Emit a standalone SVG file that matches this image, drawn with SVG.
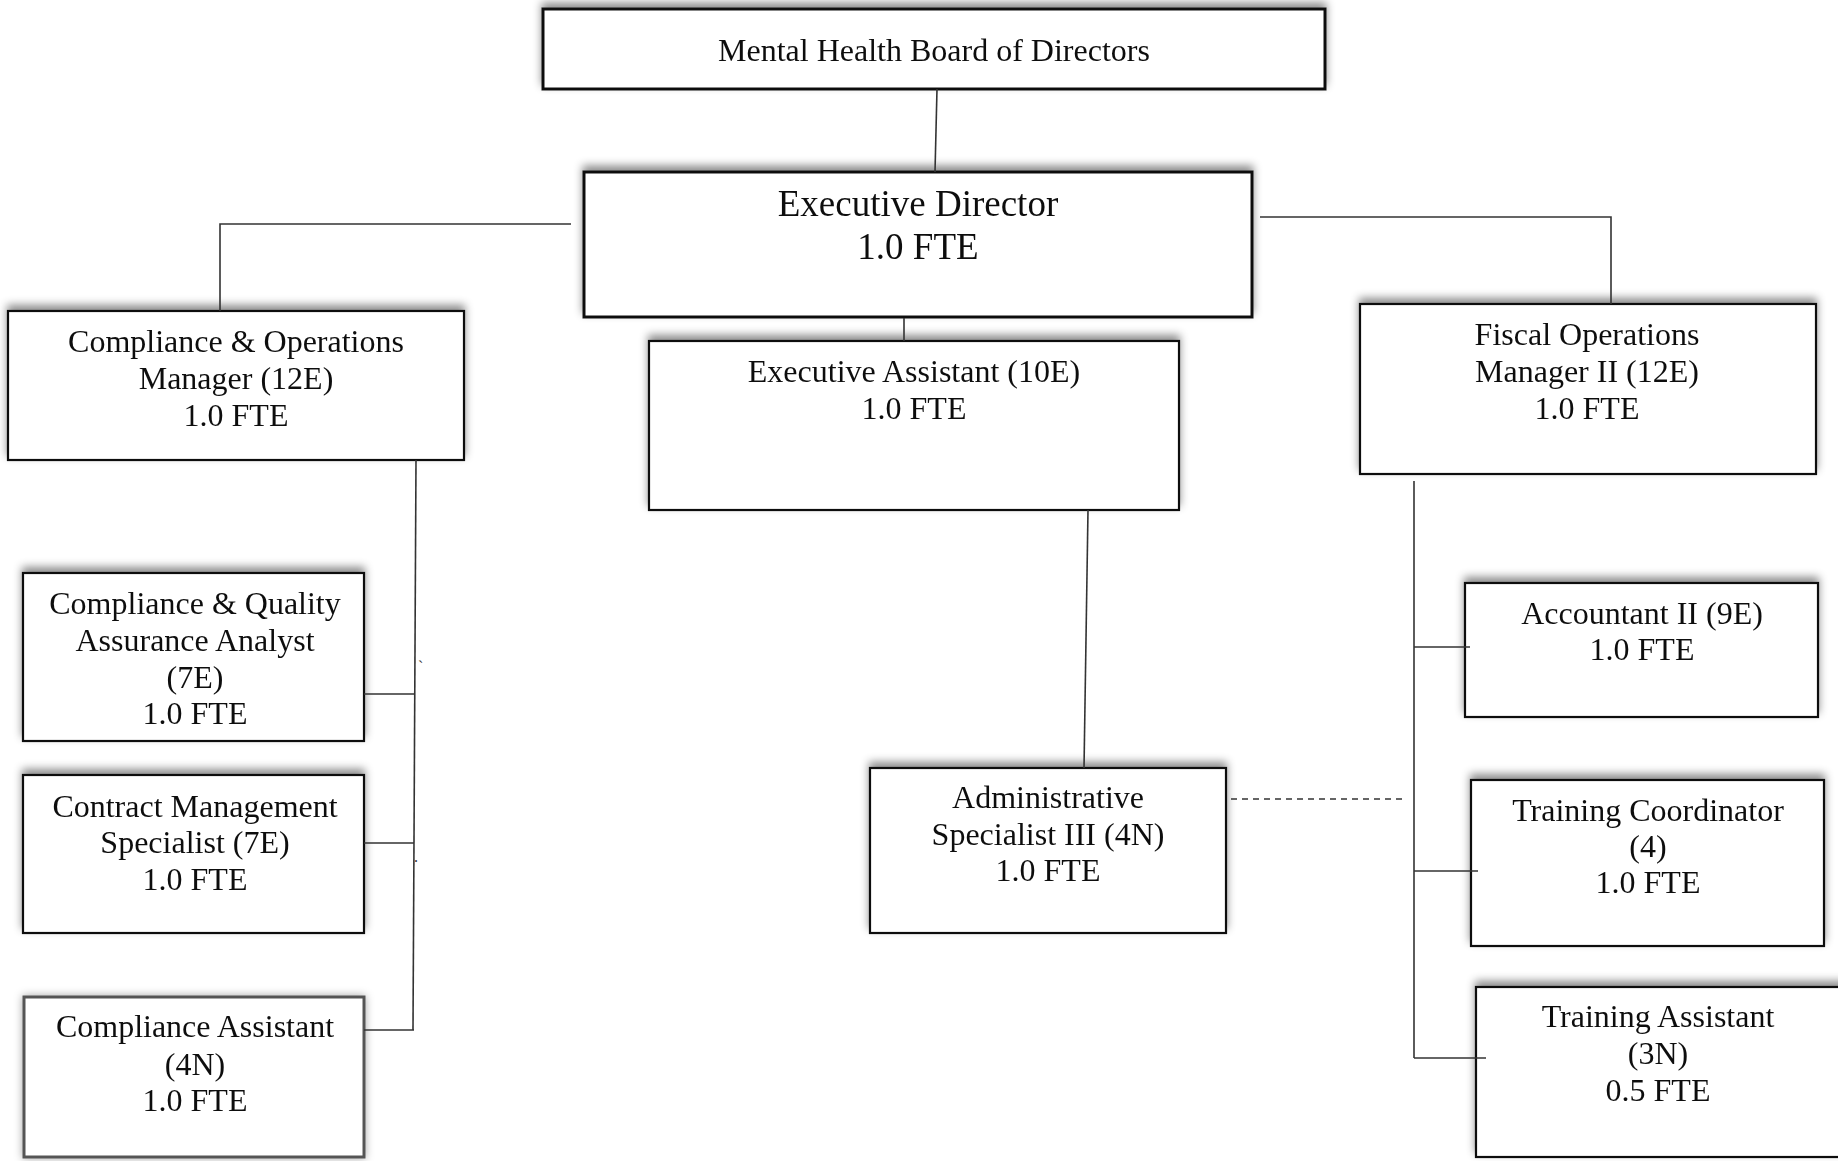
<svg xmlns="http://www.w3.org/2000/svg" width="1838" height="1161" viewBox="0 0 1838 1161">
<style>
  .box { fill: #fff; stroke: #111; stroke-width: 2.2; }
  .thick { stroke-width: 3; }
  .soft { stroke: #555; stroke-width: 3; }
  .t { font-family: "Liberation Serif", "Times New Roman", serif; font-size: 32px; fill: #111; text-anchor: middle; }
  .big { font-size: 37px; }
  .conn line, .conn polyline { stroke: #333; stroke-width: 1.6; fill: none; }
  .dash { stroke-dasharray: 6 5; }
  .stray { font-family: "Liberation Serif", serif; font-size: 16px; fill: #333; }
</style>
<defs>
  <filter id="sh" x="-10%" y="-30%" width="120%" height="160%">
    <feDropShadow dx="0" dy="-5" stdDeviation="4" flood-color="#000" flood-opacity="0.45"/>
  </filter>
  <filter id="glow" x="-10%" y="-15%" width="120%" height="130%">
    <feDropShadow dx="0" dy="0" stdDeviation="4" flood-color="#000" flood-opacity="0.35"/>
  </filter>
</defs>
<rect width="1838" height="1161" fill="#fff"/>

<g id="board" filter="url(#sh)">
  <rect class="box thick" x="543" y="9" width="782" height="80"/>
  <text class="t" x="934" y="61" font-size="31">Mental Health Board of Directors</text>
</g>

<g id="exec-director" filter="url(#sh)">
  <rect class="box thick" x="584" y="172" width="668" height="145"/>
  <text class="t big" x="918" y="216">Executive Director</text>
  <text class="t big" x="918" y="259">1.0 FTE</text>
</g>

<g id="compliance-ops-manager" filter="url(#sh)">
  <rect class="box" x="8" y="311" width="456" height="149"/>
  <text class="t" x="236" y="352">Compliance &amp; Operations</text>
  <text class="t" x="236" y="389">Manager (12E)</text>
  <text class="t" x="236" y="426">1.0 FTE</text>
</g>

<g id="exec-assistant" filter="url(#sh)">
  <rect class="box" x="649" y="341" width="530" height="169"/>
  <text class="t" x="914" y="382">Executive Assistant (10E)</text>
  <text class="t" x="914" y="419">1.0 FTE</text>
</g>

<g id="fiscal-ops-manager" filter="url(#sh)">
  <rect class="box" x="1360" y="304" width="456" height="170"/>
  <text class="t" x="1587" y="345">Fiscal Operations</text>
  <text class="t" x="1587" y="382">Manager II (12E)</text>
  <text class="t" x="1587" y="419">1.0 FTE</text>
</g>

<g id="cqa-analyst" filter="url(#sh)">
  <rect class="box" x="23" y="573" width="341" height="168"/>
  <text class="t" x="195" y="614">Compliance &amp; Quality</text>
  <text class="t" x="195" y="651">Assurance Analyst</text>
  <text class="t" x="195" y="688">(7E)</text>
  <text class="t" x="195" y="724">1.0 FTE</text>
</g>

<g id="contract-mgmt" filter="url(#sh)">
  <rect class="box" x="23" y="775" width="341" height="158"/>
  <text class="t" x="195" y="817">Contract Management</text>
  <text class="t" x="195" y="853">Specialist (7E)</text>
  <text class="t" x="195" y="890">1.0 FTE</text>
</g>

<g id="compliance-assistant" filter="url(#glow)">
  <rect class="box soft" x="24" y="997" width="340" height="160"/>
  <text class="t" x="195" y="1037">Compliance Assistant</text>
  <text class="t" x="195" y="1075">(4N)</text>
  <text class="t" x="195" y="1111">1.0 FTE</text>
</g>

<g id="admin-specialist" filter="url(#sh)">
  <rect class="box" x="870" y="768" width="356" height="165"/>
  <text class="t" x="1048" y="808">Administrative</text>
  <text class="t" x="1048" y="845">Specialist III (4N)</text>
  <text class="t" x="1048" y="881">1.0 FTE</text>
</g>

<g id="accountant" filter="url(#sh)">
  <rect class="box" x="1465" y="583" width="353" height="134"/>
  <text class="t" x="1642" y="624">Accountant II (9E)</text>
  <text class="t" x="1642" y="660">1.0 FTE</text>
</g>

<g id="training-coordinator" filter="url(#sh)">
  <rect class="box" x="1471" y="780" width="353" height="166"/>
  <text class="t" x="1648" y="821">Training Coordinator</text>
  <text class="t" x="1648" y="857">(4)</text>
  <text class="t" x="1648" y="893">1.0 FTE</text>
</g>

<g id="training-assistant" filter="url(#sh)">
  <rect class="box" x="1476" y="987" width="380" height="170"/>
  <text class="t" x="1658" y="1027">Training Assistant</text>
  <text class="t" x="1658" y="1064">(3N)</text>
  <text class="t" x="1658" y="1101">0.5 FTE</text>
</g>

<g class="conn" id="connectors">
  <line x1="937" y1="89" x2="935" y2="172"/>
  <polyline points="571,224 220,224 220,311"/>
  <polyline points="1260,217 1611,217 1611,304"/>
  <line x1="904" y1="318" x2="904" y2="341"/>
  <line x1="1088" y1="510" x2="1084" y2="768"/>
  <line x1="416" y1="460" x2="413" y2="1030"/>
  <line x1="364" y1="694" x2="415" y2="694"/>
  <line x1="364" y1="843" x2="414" y2="843"/>
  <line x1="364" y1="1030" x2="414" y2="1030"/>
  <line x1="1414" y1="481" x2="1414" y2="1058"/>
  <line x1="1414" y1="647" x2="1470" y2="647"/>
  <line x1="1414" y1="871" x2="1478" y2="871"/>
  <line x1="1414" y1="1058" x2="1486" y2="1058"/>
  <line class="dash" x1="1231" y1="799" x2="1404" y2="799"/>
</g>

<g id="stray-marks">
  <text class="stray" x="418" y="672">`</text>
  <text class="stray" x="414" y="862">.</text>
</g>
</svg>
